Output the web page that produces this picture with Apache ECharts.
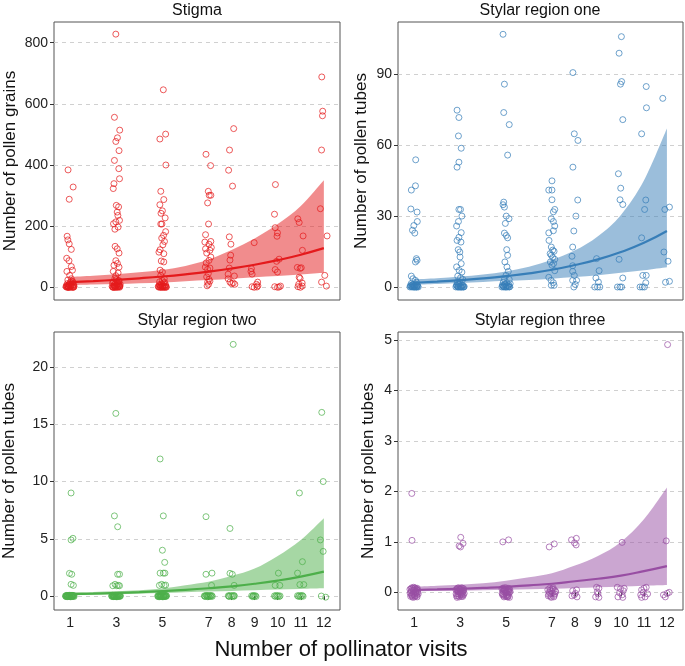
<!DOCTYPE html>
<html>
<head>
<meta charset="utf-8">
<script src="https://cdn.jsdelivr.net/npm/echarts@6/dist/echarts.min.js"></script>
<style>
html,body{margin:0;padding:0;background:#fff;}
#chart{width:685px;height:666px;}
</style>
</head>
<body>
<div id="chart"></div>
<script>
// ---------- data ----------
const visits = [1,2,3,4,5,6,7,8,9,10,11,12];
const xTickValues = [1,3,5,7,8,9,10,11,12];

const panelTitles = ["Stigma","Stylar region one","Stylar region two","Stylar region three"];
const yTitles = ["Number of pollen grains","Number of pollen tubes","Number of pollen tubes","Number of pollen tubes"];
const xTitle = "Number of pollinator visits";

const stigmaTicks = [0,200,400,600,800];
const oneTicks = [0,30,60,90];
const twoTicks = [0,5,10,15,20];
const threeTicks = [0,1,2,3,4,5];

// fitted curves and confidence bands (read at visits 1..12)
const stigmaFit = [17,20.4,24.5,29.5,35.4,42.6,51.1,61.4,73.8,88.7,106.6,128];
const stigmaLo  = [7,9,11,13.5,16,20,24,28,33,37,42,48];
const stigmaHi  = [34,38,43,49,57,70,91,122,160,207,266,350];

const oneFit = [1.8,2.28,2.88,3.63,4.6,5.8,7.3,9.3,11.7,14.8,18.7,23.7];
const oneLo  = [1.0,1.3,1.7,2.1,2.6,3.0,3.5,4.2,5.0,6.0,7.1,8.4];
const oneHi  = [3.2,3.7,4.4,5.3,6.6,8.6,11.5,15.5,21.5,30.5,45,67];

const twoFit = [0.17,0.21,0.27,0.34,0.43,0.54,0.68,0.85,1.07,1.35,1.7,2.13];
const twoLo  = [0.08,0.11,0.15,0.2,0.26,0.33,0.39,0.45,0.5,0.56,0.62,0.67];
const twoHi  = [0.32,0.36,0.42,0.5,0.65,0.95,1.25,1.75,2.4,3.5,4.9,6.8];

const threeFit = [0.046,0.057,0.071,0.089,0.11,0.14,0.17,0.22,0.27,0.33,0.42,0.52];
const threeLo  = [0.02,0.025,0.03,0.04,0.05,0.06,0.07,0.085,0.1,0.115,0.13,0.145];
const threeHi  = [0.11,0.13,0.15,0.18,0.23,0.3,0.38,0.53,0.72,1.0,1.45,2.08];

// jittered observations [visits, count]
const stigmaPts = [
[0.91,384],[1.13,328],[0.96,288],[0.87,167],[0.9,155],[0.96,142],[1.05,124],[0.85,95],[0.95,87],[1.05,68],[0.86,52],[1.1,56],[0.98,39],[1.05,28],[0.9,24],[1.12,18],
[0.82,2],[0.86,0],[0.9,5],[0.93,1],[0.96,10],[0.99,3],[1.02,0],[1.05,6],[1.08,14],[1.11,2],[1.14,0],[1.17,4],[0.88,12],[1.0,16],[0.94,8],[1.07,20],[1.15,9],[0.84,6],
[0.85,3],[0.92,0],[0.97,2],[1.03,4],[1.09,0],[1.13,7],[0.89,1],[1.01,9],[1.16,1],[0.95,0],
[2.98,828],[2.92,556],[3.15,514],[3.05,489],[2.98,477],[3.12,447],[2.92,415],[3.11,388],[2.9,339],[2.87,323],[3.14,355],[3.0,268],[3.1,263],[3.04,246],[3.07,235],[3.14,219],[2.98,214],[2.88,208],[2.94,190],[3.08,197],[2.95,134],[3.04,126],[3.12,112],[2.98,87],[3.05,78],[2.9,72],[3.12,66],[2.87,52],[3.08,47],[2.98,38],[2.94,29],[3.12,21],
[2.82,3],[2.86,0],[2.9,8],[2.93,1],[2.96,12],[2.99,4],[3.02,0],[3.05,15],[3.08,2],[3.11,7],[3.14,0],[3.17,10],[2.88,18],[3.0,25],[2.95,5],[3.1,22],[3.03,9],[2.84,14],[3.16,3],
[2.85,1],[2.91,4],[2.97,0],[3.01,6],[3.06,1],[3.13,3],[2.89,0],[3.09,11],[3.15,5],[2.94,2],
[5.04,646],[5.14,501],[4.89,485],[5.15,400],[4.93,314],[5.06,287],[4.89,270],[5.0,250],[4.94,242],[5.12,227],[4.93,207],[4.98,207],[5.14,182],[5.05,170],[4.97,161],[5.09,150],[5.02,139],[4.9,123],[5.06,110],[4.85,115],[4.95,86],[5.06,83],[4.9,56],[5.0,50],[4.93,39],[5.08,28],
[4.82,2],[4.86,0],[4.9,6],[4.93,1],[4.96,11],[4.99,3],[5.02,0],[5.05,14],[5.08,4],[5.11,0],[5.14,8],[5.17,2],[4.88,18],[5.0,22],[4.95,7],[5.1,16],
[4.84,4],[4.91,1],[4.97,0],[5.03,5],[5.07,1],[5.13,3],[4.87,9],[5.01,2],[5.16,0],
[6.89,435],[7.09,398],[6.99,314],[7.1,301],[7.03,301],[6.96,276],[7.0,207],[6.87,172],[6.84,148],[7.1,150],[7.02,141],[6.87,126],[7.06,121],[6.92,112],[7.1,99],[7.02,88],[6.86,66],[6.96,59],[7.06,63],[6.99,45],[6.92,34],[7.02,26],[6.96,17],[7.06,20],[7.12,130],[6.9,80],[7.0,10],[6.94,5],
[8.09,519],[7.91,449],[7.87,383],[8.04,331],[7.9,165],[7.97,141],[7.96,105],[7.93,89],[7.9,63],[7.85,43],[8.12,37],[7.85,28],[7.93,17],[8.0,12],[8.14,10],[8.07,14],
[8.98,146],[8.86,61],[8.84,52],[8.89,43],[9.13,17],[9.08,10],[8.89,2],[8.98,0],[9.1,1],[9.14,5],
[9.9,336],[9.86,239],[9.89,195],[9.99,178],[9.97,167],[10.06,92],[9.95,85],[9.89,58],[9.99,50],[9.87,2],[9.99,0],[10.06,1],[10.12,4],
[10.87,224],[10.93,212],[11.1,168],[11.07,121],[10.85,65],[10.97,62],[11.02,64],[10.93,33],[10.97,29],[11.06,14],[10.88,2],[10.98,0],[11.06,4],[10.91,10],
[11.91,688],[11.95,576],[11.94,561],[11.9,449],[11.85,257],[12.14,168],[12.04,39],[11.9,17],[12.11,4]
];

const onePts = [
[1.07,53.8],[1.06,42.8],[0.88,41],[0.86,33],[1.13,31.7],[1.14,27.7],[0.99,26],[0.93,24],[1.03,22.8],[1.1,12],[1.13,11.3],[1.06,10.6],[0.88,4.6],[0.95,3.5],[1.06,2.8],[1.1,2.1],
[0.82,0],[0.86,0.3],[0.9,0],[0.94,1],[0.98,0],[1.02,0.5],[1.06,0],[1.1,0],[1.14,0.8],[1.18,0],[0.88,1.5],[1.0,0],[0.96,0.2],[1.12,0.4],
[0.84,0.6],[0.92,0.1],[0.97,0.9],[1.04,0.2],[1.08,1.1],[1.16,0.3],[0.9,0.7],[1.01,0.1],[1.11,0],
[2.87,74.8],[2.95,71.7],[2.93,63.9],[3.05,58.7],[2.95,52.8],[2.87,50.7],[2.95,32.8],[3.02,32.8],[3.08,30],[2.93,27.7],[2.85,25.8],[3.05,23],[2.95,21],[2.87,19.7],[3.04,19],[2.92,15.8],[2.99,14.8],[3.0,12.7],[3.05,9.9],[2.85,8.5],[2.96,7],[3.08,6.3],[2.9,4.6],[3.02,3.9],[3.12,3.2],
[2.82,0],[2.86,0.5],[2.9,0],[2.94,1.2],[2.98,0],[3.02,0.3],[3.06,0],[3.1,0.8],[3.14,0],[3.18,0.2],[2.88,2],[3.0,1.5],[3.08,0],[2.92,0],
[2.84,0.7],[2.91,0.2],[2.97,1],[3.04,0.1],[3.12,0.6],[3.16,0],[2.89,1.1],[3.01,0]
,
[4.87,106.9],[4.93,85.8],[4.9,73.8],[5.14,68.7],[5.07,55.8],[4.9,35.9],[4.87,34.8],[4.93,33.8],[5.01,30],[5.13,28.9],[4.97,26.9],[4.93,22.8],[5.01,21.8],[5.07,20.8],[5.03,15.8],[5.07,13.4],[4.95,10.6],[5.04,8.5],[5.1,6.6],[5.0,4.9],[4.93,3.2],[5.14,3.2],
[4.82,0],[4.86,0.4],[4.9,0],[4.94,1],[4.98,0],[5.02,0.6],[5.06,0],[5.1,0.2],[5.14,0],[5.18,1.4],[4.88,2],[5.04,1.8],
[4.84,0.8],[4.92,0.1],[4.96,1.2],[5.0,0],[5.08,0.5],[5.12,1],[4.89,0.3],[5.16,0.1],
[7.0,44.9],[6.86,41],[7.0,41],[7.0,36.9],[7.12,32.8],[7.06,31.8],[6.97,28.9],[7.06,27.7],[7.12,25.8],[7.06,23.8],[6.86,22.9],[6.87,19.7],[6.97,16.9],[7.03,15.6],[7.09,15.1],[6.92,14.1],[6.97,13.4],[7.03,12.5],[7.12,11.7],[6.93,10.6],[7.07,9.9],[7.0,9.2],[7.12,6.9],[6.86,4.1],[6.96,2.8],[7.06,1.8],[6.97,0.7],[7.09,0.7],
[7.91,90.7],[7.97,64.8],[8.13,62],[7.91,50.7],[8.12,36.8],[8.04,30],[7.95,23.7],[7.9,16.9],[7.87,13],[7.9,9],[7.9,6.6],[7.97,4.9],[7.9,2.8],[8.07,2.8],[8.01,1.1],[7.95,0],
[8.94,12],[9.05,6.9],[9.02,2.1],[8.91,3.8],[8.86,0],[8.98,0],[9.08,0],
[10.02,105.9],[9.92,98.9],[10.03,86.9],[9.98,85.8],[10.08,70.8],[9.89,47.9],[9.99,41.8],[9.96,36.9],[10.08,34.9],[9.92,11.7],[10.08,3.8],[9.85,0],[9.96,0],[10.03,0],
[11.1,84.8],[11.11,75.8],[10.9,64.8],[11.08,36.8],[11.03,32.8],[10.9,20.8],[10.95,4.9],[11.1,4.9],[11.08,1.8],[10.83,0],[10.93,0],[11.02,0],
[11.82,79.8],[12.11,33.8],[11.91,32.8],[11.87,14.8],[12.05,10.9],[11.94,2],[12.11,2.4]
];

const twoPts = [
[1.04,9],[1.12,5.04],[1.04,4.9],[0.97,1.98],[1.07,1.9],[1.04,1.02],[1.14,0.93],
[0.8,0.02],[0.83,-0.05],[0.86,0.04],[0.89,-0.02],[0.92,0.05],[0.95,-0.04],[0.98,0.01],[1.01,-0.06],[1.04,0.03],[1.07,-0.03],[1.1,0.05],[1.13,-0.01],[1.16,0.02],[0.9,0.0],[1.0,0.06],[1.05,-0.05],
[0.81,-0.03],[0.84,0.05],[0.87,-0.06],[0.91,0.03],[0.94,-0.02],[0.97,0.06],[0.99,-0.05],[1.02,0.02],[1.06,0.05],[1.08,-0.04],[1.11,0.0],[1.14,0.04],[1.17,-0.05],[0.85,0.01],[0.96,-0.01],[1.09,0.03],
[2.98,15.95],[2.92,7.0],[3.06,6.05],[3.06,1.9],[3.14,1.9],[2.85,0.9],[2.95,1.02],[3.02,0.9],[3.09,0.93],[3.14,0.9],
[2.8,0.03],[2.83,-0.04],[2.86,0.05],[2.89,-0.02],[2.92,0.01],[2.95,-0.05],[2.98,0.04],[3.01,-0.03],[3.04,0.02],[3.07,-0.06],[3.1,0.05],[3.13,-0.01],[3.16,0.03],[2.9,-0.05],[3.0,0.0],
[2.81,-0.02],[2.84,0.06],[2.87,-0.05],[2.91,0.04],[2.94,-0.03],[2.97,0.05],[3.02,-0.06],[3.05,0.03],[3.08,0.0],[3.12,0.06],[3.15,-0.04],[3.18,0.01],[2.88,0.02],[2.99,-0.01],
[4.9,11.97],[5.04,7.0],[5.0,4.0],[5.1,2.94],[4.9,2.0],[5.11,2.0],[5.04,2.0],[4.87,0.93],[4.97,1.02],[5.07,0.93],[5.14,0.96],
[4.8,0.02],[4.83,-0.05],[4.86,0.04],[4.89,-0.01],[4.92,0.05],[4.95,-0.04],[4.98,0.03],[5.01,-0.06],[5.04,0.01],[5.07,-0.03],[5.1,0.05],[5.13,-0.02],[5.16,0.03],[4.94,0.0],[5.05,-0.05],
[4.81,-0.04],[4.84,0.05],[4.88,-0.06],[4.91,0.02],[4.96,0.06],[4.99,-0.02],[5.03,0.04],[5.06,-0.05],[5.09,0.0],[5.12,0.06],[5.15,-0.04],[5.18,0.02],[4.93,-0.03],
[6.89,6.93],[7.15,2.0],[6.89,1.9],[7.13,0.93],
[6.82,0.02],[6.86,-0.04],[6.9,0.05],[6.94,-0.02],[6.98,0.03],[7.02,-0.05],[7.06,0.01],[7.1,-0.03],[7.14,0.04],[6.96,-0.06],
[6.84,-0.02],[6.92,0.04],[7.0,0.0],[7.08,0.05],[7.16,-0.03],
[8.07,21.98],[7.93,5.9],[7.93,1.98],[8.03,1.9],[8.11,0.93],
[7.86,0.03],[7.9,-0.04],[7.95,0.05],[8.0,-0.02],[8.04,0.02],[8.08,-0.05],[8.12,0.01],[7.88,-0.01],[8.1,0.04],
[8.87,0.02],[8.91,-0.05],[8.95,0.04],[8.99,-0.02],[9.03,0.03],[9.06,-0.04],[8.93,0.0],
[10.03,2.0],[9.89,0.93],[10.09,0.93],
[9.86,0.02],[9.9,-0.04],[9.94,0.05],[9.98,-0.02],[10.02,0.03],[10.06,-0.05],[10.1,0.01],
[10.94,9.0],[11.07,3.0],[10.86,2.0],[10.96,1.0],[11.13,1.0],
[10.86,0.03],[10.9,-0.03],[10.94,0.04],[10.98,-0.05],[11.02,0.01],[11.06,0.05],[11.1,-0.02],
[11.91,16.04],[11.97,10.0],[11.85,4.9],[11.97,3.9],[11.89,0.0],[12.08,-0.1]
];

const threePts = [
[0.9,1.96],[0.91,1.03],
[0.82,0.06],[0.85,-0.08],[0.88,0.03],[0.91,-0.05],[0.94,0.08],[0.97,-0.02],[1.0,0.05],[1.03,-0.09],[1.06,0.01],[1.09,0.07],[1.12,-0.06],[1.15,0.04],[1.18,-0.03],[0.86,0.0],[0.95,-0.1],[1.04,0.09],[1.1,-0.01],[0.9,0.09],[1.01,-0.06],[1.14,0.08],
[0.83,-0.02],[0.87,0.07],[0.92,-0.08],[0.96,0.04],[0.99,-0.04],[1.02,0.08],[1.05,-0.07],[1.08,0.02],[1.11,0.06],[1.13,-0.09],[1.16,0.0],[0.89,-0.06],[0.98,0.1],[1.07,-0.02],
[3.03,1.09],[2.96,0.92],[3.02,0.9],[3.13,0.97],
[2.82,0.05],[2.85,-0.07],[2.88,0.08],[2.91,-0.03],[2.94,0.02],[2.97,-0.09],[3.0,0.06],[3.03,-0.04],[3.06,0.09],[3.09,0.0],[3.12,-0.08],[3.15,0.04],[3.18,-0.02],[2.87,-0.1],[2.96,0.07],[3.05,-0.06],[3.11,0.08],[2.92,0.01],[3.02,-0.01],[3.14,-0.05],
[2.83,-0.03],[2.86,0.06],[2.9,-0.07],[2.93,0.09],[2.98,-0.05],[3.01,0.03],[3.04,0.07],[3.07,-0.08],[3.1,0.04],[3.13,0.01],[3.16,0.07],[2.89,0.03],[2.99,0.0],[3.08,-0.03],
[4.86,1.0],[5.11,1.04],
[4.82,0.07],[4.85,-0.05],[4.88,0.02],[4.91,-0.09],[4.94,0.06],[4.97,-0.02],[5.0,0.09],[5.03,-0.07],[5.06,0.03],[5.09,-0.04],[5.12,0.08],[5.15,-0.1],[5.18,0.01],[4.87,-0.03],[4.96,0.04],[5.05,-0.09],[5.11,0.05],[4.92,0.09],[5.02,-0.05],[5.14,0.0],
[4.83,-0.02],[4.86,0.08],[4.9,-0.06],[4.93,0.03],[4.98,-0.08],[5.01,0.05],[5.04,-0.01],[5.07,0.07],[5.1,-0.07],[5.13,0.02],[5.16,0.06],[4.89,0.05],[4.99,0.01],[5.08,-0.09],
[6.88,0.9],[7.1,0.96],
[6.82,0.05],[6.86,-0.04],[6.9,0.08],[6.94,-0.08],[6.98,0.02],[7.02,-0.02],[7.06,0.06],[7.1,-0.06],[7.14,0.03],[6.88,0.0],[6.97,-0.1],[7.05,0.09],[7.12,-0.03],
[6.84,-0.07],[6.92,0.04],[7.0,0.07],[7.08,-0.09],[7.16,0.01],[6.95,-0.03],
[7.85,1.04],[8.06,1.07],[7.98,0.98],[8.05,0.94],
[7.9,0.03],[8.07,0.05],[7.97,-0.05],[7.87,-0.07],[8.09,-0.09],[8.02,-0.02],
[8.94,0.1],[9.04,0.08],[8.97,0.01],[8.9,-0.09],[9.04,-0.1],[9.0,-0.03],
[10.05,0.99],
[9.84,0.1],[9.98,0.07],[10.14,0.08],[9.94,-0.01],[10.05,-0.05],[9.87,-0.09],[10.08,-0.1],[10.1,0.03],
[10.9,0.05],[11.0,0.08],[11.1,0.1],[10.86,-0.05],[11.05,-0.09],[10.97,0.0],[11.16,-0.03],[10.9,-0.1],
[12.03,4.91],[11.97,1.02],[11.85,-0.05],[12.01,-0.02],[12.1,0.0],[11.93,-0.09]
];

// ---------- styling ----------
const FONT = "'Liberation Sans', Arial, Helvetica, sans-serif";
const colors = ['#E41A1C','#377EB8','#4DAF4A','#984EA3'];
const fills = ['rgba(228,26,28,0.5)','rgba(55,126,184,0.5)','rgba(77,175,74,0.5)','rgba(152,78,163,0.5)'];
const yRanges = [[-41.5,867.7],[-5.5,112.1],[-1.22,23.06],[-0.35,5.16]];
const yTicks = [stigmaTicks, oneTicks, twoTicks, threeTicks];
const pts = [stigmaPts, onePts, twoPts, threePts];
const fits = [stigmaFit, oneFit, twoFit, threeFit];
const los = [stigmaLo, oneLo, twoLo, threeLo];
const his = [stigmaHi, oneHi, twoHi, threeHi];

const gridBoxes = [
  {left:54, top:22, width:286, height:278},
  {left:398, top:22, width:285, height:278},
  {left:54, top:332, width:286, height:278},
  {left:398, top:332, width:285, height:278}
];

const grid = gridBoxes.map(b => Object.assign({show:true, borderColor:'#555', borderWidth:1, backgroundColor:'transparent', containLabel:false}, b));

const xAxis = gridBoxes.map((b,i) => ({
  type:'value', gridIndex:i, min:0.3, max:12.7,
  axisLine:{show:false},
  splitLine:{show:false},
  axisTick:{show:i>=2, customValues:xTickValues, length:4, lineStyle:{color:'#333'}},
  axisLabel:{show:i>=2, customValues:xTickValues, fontSize:14, margin:6, color:'#222', fontFamily:FONT}
}));

const yAxis = gridBoxes.map((b,i) => ({
  type:'value', gridIndex:i, min:yRanges[i][0], max:yRanges[i][1],
  axisLine:{show:false},
  splitLine:{show:true, lineStyle:{color:'#d0d0d0', type:[4,4], width:1}},
  axisTick:{show:true, customValues:yTicks[i], length:4, lineStyle:{color:'#333'}},
  axisLabel:{customValues:yTicks[i], fontSize:14, margin:6, color:'#222', fontFamily:FONT}
}));

// Catmull-Rom smoothed path segment through pixel points
function crPath(p, move){
  let d = (move ? 'M' : 'L') + p[0][0] + ',' + p[0][1];
  for (let i = 0; i < p.length - 1; i++){
    const p0 = p[i-1] || p[i], p1 = p[i], p2 = p[i+1], p3 = p[i+2] || p[i+1];
    const c1 = [p1[0] + (p2[0]-p0[0])/6, p1[1] + (p2[1]-p0[1])/6];
    const c2 = [p2[0] - (p3[0]-p1[0])/6, p2[1] - (p3[1]-p1[1])/6];
    d += 'C' + c1[0] + ',' + c1[1] + ' ' + c2[0] + ',' + c2[1] + ' ' + p2[0] + ',' + p2[1];
  }
  return d;
}

function bandSeries(i){
  return {
    type:'custom', coordinateSystem:'cartesian2d', xAxisIndex:i, yAxisIndex:i, silent:true, z:1,
    data:[[visits[0], los[i][0]]],
    renderItem: function(params, api){
      if (params.dataIndex !== 0) return null;
      const up = visits.map((v,k) => api.coord([v, his[i][k]]));
      const dn = visits.map((v,k) => api.coord([v, los[i][k]])).reverse();
      const d = crPath(up, true) + crPath(dn, false) + 'Z';
      return {type:'path', shape:{pathData:d}, style:{fill:fills[i], stroke:null}};
    }
  };
}

const series = [];
for (let i=0;i<4;i++){
  series.push(bandSeries(i));
  series.push({
    type:'scatter', xAxisIndex:i, yAxisIndex:i, symbol:'circle', symbolSize:6, silent:true,
    itemStyle:{color:'rgba(0,0,0,0)', borderColor:colors[i], borderWidth:0.9},
    data: pts[i], z:2
  });
  series.push({
    type:'line', xAxisIndex:i, yAxisIndex:i, smooth:true, symbol:'none', silent:true,
    lineStyle:{color:colors[i], width:2.2}, data: visits.map((v,k)=>[v, fits[i][k]]), z:3
  });
}

function txt(x, y, text, size, rot){
  return {type:'text', x:x, y:y, rotation:rot||0, silent:true,
    style:{text:text, font:size+'px '+FONT, fill:'#111', align:'center', verticalAlign:'middle', textAlign:'center', textVerticalAlign:'middle'}};
}

const graphic = [
  txt(197, 11, panelTitles[0], 16),
  txt(540, 11, panelTitles[1], 16),
  txt(197, 321, panelTitles[2], 16),
  txt(540, 321, panelTitles[3], 16),
  txt(10, 161, yTitles[0], 17, Math.PI/2),
  txt(361, 161, yTitles[1], 17, Math.PI/2),
  txt(9, 471, yTitles[2], 17, Math.PI/2),
  txt(368, 471, yTitles[3], 17, Math.PI/2),
  txt(341, 650, xTitle, 22)
];

const chart = echarts.init(document.getElementById('chart'), null, {renderer:'canvas'});
chart.setOption({
  animation:false,
  backgroundColor:'#fff',
  textStyle:{fontFamily:FONT},
  grid, xAxis, yAxis, series, graphic
});
</script>
</body>
</html>
